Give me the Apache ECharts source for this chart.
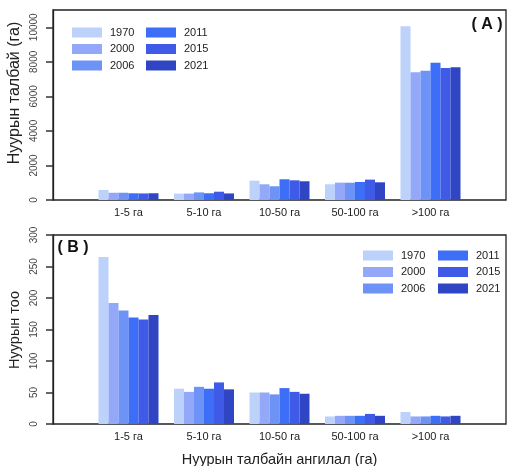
<!DOCTYPE html>
<html>
<head>
<meta charset="utf-8">
<script src="https://cdn.jsdelivr.net/npm/echarts@6/dist/echarts.min.js"></script>
<style>
  html, body { margin: 0; padding: 0; background: #fff; }
  #chart { width: 508px; height: 466px; }
</style>
</head>
<body>
<div id="chart"></div>
<script>
// lake size classes and survey years
const sizeClasses = ['1-5 га', '5-10 га', '10-50 га', '50-100 га', '>100 га']
const years = ['1970', '2000', '2006', '2011', '2015', '2021']
const colors = ['#BDD2FB', '#93A8F8', '#6E93F6', '#3D6EF7', '#3F5AE6', '#2F45C3']

// (A) lake area, ha
const area1970 = [580, 370, 1120, 910, 10060]
const area2000 = [420, 370, 910, 1005, 7390]
const area2006 = [420, 440, 795, 1000, 7490]
const area2011 = [390, 390, 1200, 1045, 7950]
const area2015 = [380, 480, 1140, 1180, 7640]
const area2021 = [390, 380, 1085, 1025, 7680]

// (B) lake count
const count1970 = [265, 56, 50, 12, 19]
const count2000 = [192, 51, 50, 13, 12]
const count2006 = [180, 59, 47, 13, 12]
const count2011 = [169, 56, 57, 13, 13]
const count2015 = [166, 66, 51, 16, 12]
const count2021 = [173, 55, 48, 13, 13]

const areaByYear = [area1970, area2000, area2006, area2011, area2015, area2021]
const countByYear = [count1970, count2000, count2006, count2011, count2015, count2021]

// empty slot on each side, like the R barplot margins
const axisCats = ['', ...sizeClasses, '']
const pad = arr => [null, ...arr, null]

const font = 'Liberation Sans, Arial, sans-serif'

const chart = echarts.init(document.getElementById('chart'))

const xAxisBase = (gridIndex) => ({
  type: 'category',
  gridIndex,
  data: axisCats,
  boundaryGap: false,
  axisLine: { show: false },
  axisTick: { show: false },
  axisLabel: { interval: 0, color: '#222', fontSize: 11, fontFamily: font, margin: 7 },
  splitLine: { show: false }
})

const yAxisBase = (gridIndex, max, step) => ({
  type: 'value',
  gridIndex,
  min: 0,
  max,
  interval: step,
  axisLine: { show: true, lineStyle: { color: '#222', width: 1.3 } },
  axisTick: { show: true, length: 7, lineStyle: { color: '#333', width: 1.5 } },
  axisLabel: {
    rotate: 90, color: '#444', fontSize: 10, fontFamily: font, margin: 14,
    showMaxLabel: max % step === 0,
    formatter: v => String(v)
  },
  splitLine: { show: false }
})

const makeSeries = (data, axisIndex) => years.map((y, i) => ({
  name: y,
  type: 'bar',
  xAxisIndex: axisIndex,
  yAxisIndex: axisIndex,
  data: pad(data[i]),
  barWidth: 10,
  barGap: '0%',
  itemStyle: { color: colors[i] }
}))

const legendBase = (names, left, top) => ({
  orient: 'vertical',
  left, top,
  data: names,
  icon: 'rect',
  itemWidth: 30,
  itemHeight: 10,
  itemGap: 5.5,
  textStyle: { fontSize: 11, fontFamily: font, color: '#222', padding: [0, 0, 0, 3] }
})

const option = {
  animation: false,
  color: colors,
  grid: [
    { left: 53, right: 2, top: 10, bottom: 266, show: true, borderColor: '#222', borderWidth: 1.3, outerBoundsMode: 'none' },
    { left: 53, right: 2, top: 235, bottom: 42, show: true, borderColor: '#222', borderWidth: 1.3, outerBoundsMode: 'none' }
  ],
  xAxis: [
    xAxisBase(0),
    Object.assign(xAxisBase(1), {
      name: 'Нуурын талбайн ангилал (га)',
      nameLocation: 'middle',
      nameGap: 28,
      nameTextStyle: { fontSize: 14.5, fontFamily: font, color: '#222' }
    })
  ],
  yAxis: [
    yAxisBase(0, 11000, 2000),
    yAxisBase(1, 300, 50)
  ],
  legend: [
    legendBase(years.slice(0, 3), 67, 22),
    legendBase(years.slice(3), 141, 22),
    legendBase(years.slice(0, 3), 358, 245),
    legendBase(years.slice(3), 433, 245)
  ],
  graphic: [
    { type: 'text', x: 15, y: 93, rotation: Math.PI / 2,
      style: { text: 'Нуурын талбай (га)', font: '16px ' + font, fill: '#222', textAlign: 'center', textVerticalAlign: 'middle' } },
    { type: 'text', x: 15, y: 330, rotation: Math.PI / 2,
      style: { text: 'Нуурын тоо', font: '14.5px ' + font, fill: '#222', textAlign: 'center', textVerticalAlign: 'middle' } },
    { type: 'text', x: 487, y: 25,
      style: { text: '( A )', font: 'bold 16px ' + font, fill: '#111', textAlign: 'center', textVerticalAlign: 'middle' } },
    { type: 'text', x: 73, y: 248,
      style: { text: '( B )', font: 'bold 16px ' + font, fill: '#111', textAlign: 'center', textVerticalAlign: 'middle' } }
  ],
  series: [
    ...makeSeries(areaByYear, 0),
    ...makeSeries(countByYear, 1)
  ]
}

chart.setOption(option)
</script>
</body>
</html>
